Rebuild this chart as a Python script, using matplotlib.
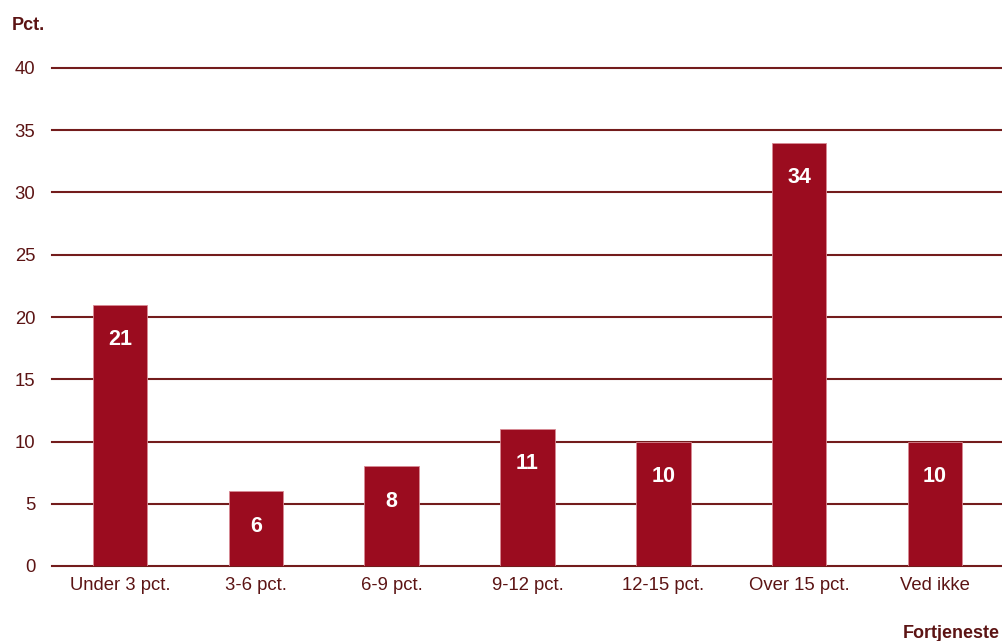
import matplotlib.pyplot as plt

plt.rcParams['font.family'] = ['Liberation Sans', 'DejaVu Sans']

categories = ['Under 3 pct.', '3-6 pct.', '6-9 pct.', '9-12 pct.',
              '12-15 pct.', 'Over 15 pct.', 'Ved ikke']
values = [21, 6, 8, 11, 10, 34, 10]
yticks = [0, 5, 10, 15, 20, 25, 30, 35, 40]

bar_color = '#9b0c1f'
text_color = '#5c1414'
grid_color = '#731c1c'

fig = plt.figure(figsize=(10.03, 6.41), dpi=100)
ax = fig.add_axes([52/1003, 1 - 566/641, 1 - 52/1003, (566 - 68)/641])

x = range(len(categories))
bars = ax.bar(x, values, width=0.4, color=bar_color, edgecolor='#d98a94',
              linewidth=0.6, zorder=3)

for b, v in zip(bars, values):
    ax.annotate(str(v), (b.get_x() + b.get_width()/2, v), xytext=(0, -25),
                textcoords='offset points', ha='center', va='center',
                color='white', fontsize=15.5, fontweight='bold', zorder=4)

ax.set_xlim(-0.5, len(categories) - 0.5)
ax.set_ylim(0, 40)
ax.set_yticks(yticks)
ax.set_xticks(list(x))
ax.set_xticklabels(categories)
ax.yaxis.grid(True, color=grid_color, linewidth=1.5, zorder=0)
for line in ax.get_ygridlines():
    line.set_clip_on(False)
ax.set_axisbelow(True)
for s in ax.spines.values():
    s.set_visible(False)
ax.tick_params(axis='both', length=0, labelsize=13.3, colors=text_color)
ax.tick_params(axis='y', pad=12)
ax.tick_params(axis='x', pad=8)

fig.text(12/1003, 1 - 25/641, 'Pct.', fontsize=13, fontweight='bold',
         color=text_color, ha='left', va='center')
fig.text(1000/1003, 1 - 633/641, 'Fortjeneste', fontsize=13,
         fontweight='bold', color=text_color, ha='right', va='center')

fig.savefig('out.png', dpi=100)
